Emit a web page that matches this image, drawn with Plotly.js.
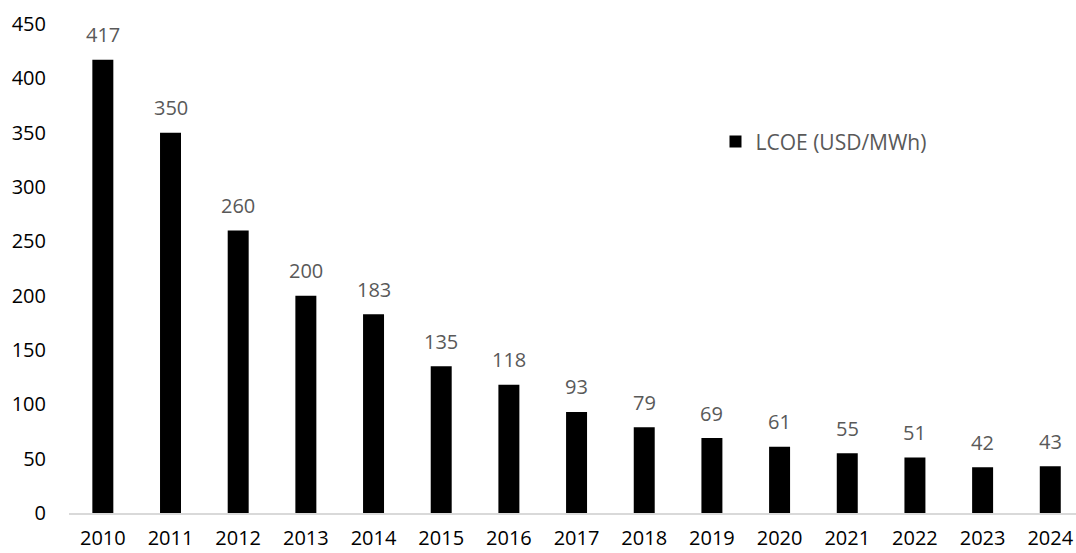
<!DOCTYPE html>
<html>
<head>
<meta charset="utf-8">
<script src="https://cdn.plot.ly/plotly-3.0.1.min.js"></script>
<style>html,body{margin:0;padding:0;overflow:hidden;background:#fff}</style>
</head>
<body>
<div id="chart" style="width:1076px;height:553px"></div>
<script>
var years = ["2010","2011","2012","2013","2014","2015","2016","2017","2018","2019","2020","2021","2022","2023","2024"];
var lcoe = [417,350,260,200,183,135,118,93,79,69,61,55,51,42,43];
var seriesName = "LCOE (USD/MWh)";
var yTicks = [0,50,100,150,200,250,300,350,400,450];

var FONT = "Open Sans, Noto Sans, sans-serif";

var trace = {
  type: "bar",
  x: years,
  y: lcoe,
  name: seriesName,
  marker: {color: "#000000"},
  hoverinfo: "x+y"
};

// data labels: category index position, value from the arrays
var annotations = years.map(function(yr, i){
  return {
    x: i, y: lcoe[i], xref: "x", yref: "y",
    text: String(lcoe[i]), showarrow: false,
    xanchor: "center", yanchor: "middle", yshift: 25,
    font: {family: FONT, size: 20, color: "#595959"}
  };
});

var layout = {
  width: 1076, height: 553,
  margin: {l: 69, r: 0, t: 24, b: 40, pad: 0},
  paper_bgcolor: "#ffffff", plot_bgcolor: "#ffffff",
  bargap: 0.69,
  showlegend: true,
  legend: {
    x: 0.642, y: 0.759, xanchor: "left", yanchor: "middle",
    font: {family: FONT, size: 21, color: "#595959"},
    bgcolor: "rgba(0,0,0,0)"
  },
  xaxis: {
    type: "category",
    range: [-0.5, 14.38],
    showgrid: false, zeroline: false,
    showline: true, linecolor: "#d9d9d9", linewidth: 1.5,
    ticks: "", ticklabelstandoff: 6,
    tickfont: {family: FONT, size: 20, color: "#000000"},
    fixedrange: true
  },
  yaxis: {
    range: [0, 450],
    tickvals: yTicks,
    ticktext: yTicks.map(String),
    showgrid: false, zeroline: false, showline: false,
    ticks: "", ticklabelstandoff: 22,
    tickfont: {family: FONT, size: 20, color: "#000000"},
    fixedrange: true
  },
  annotations: annotations
};

Plotly.newPlot("chart", [trace], layout, {displayModeBar: false, staticPlot: true});
</script>
</body>
</html>
